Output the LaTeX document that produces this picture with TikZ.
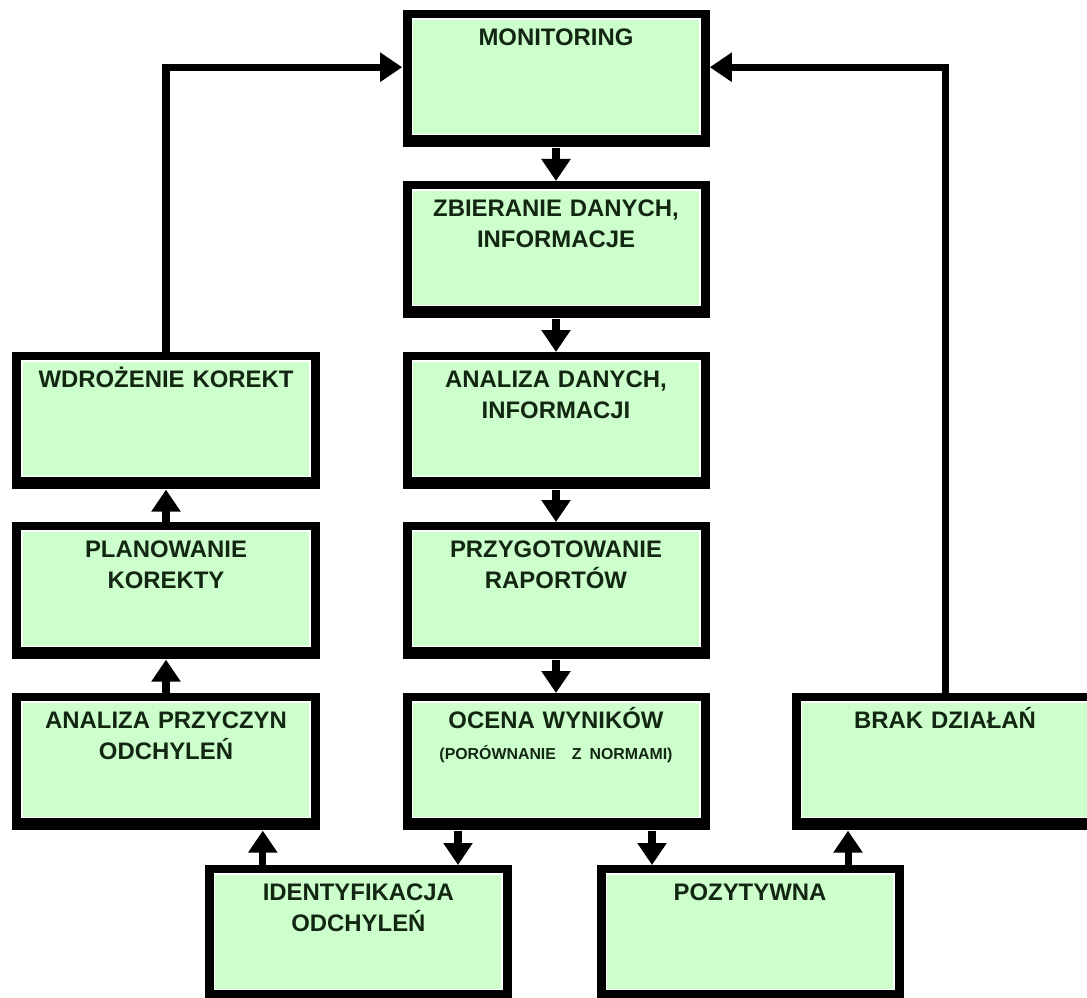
\documentclass[tikz,border=0pt]{standalone}
\usepackage{fontspec}
\setmainfont{Liberation Sans}
\usetikzlibrary{arrows.meta}
\definecolor{stagegreen}{RGB}{204,255,204}
\definecolor{stagetext}{RGB}{18,38,18}
\tikzset{
  stage/.style={fill=black, inner xsep=0pt, inner ysep=0pt, anchor=north,
    text width=7.675cm, align=center, text height=24.9pt, text depth=72.6pt,
    font=\fontsize{17pt}{22pt}\selectfont\bfseries, text=stagetext,
    path picture={
      \fill[white] ([shift={(6.4pt,-5.7pt)}]path picture bounding box.north west)
        rectangle ([shift={(-6.4pt,8.5pt)}]path picture bounding box.south east);
      \fill[stagegreen] ([shift={(7.5pt,-6.8pt)}]path picture bounding box.north west)
        rectangle ([shift={(-7.5pt,9.6pt)}]path picture bounding box.south east);
    }},
  flow/.style={line width=5pt, -{Triangle[width=0.7cm,length=0.55cm]}}
}
\begin{document}
\begin{tikzpicture}
  \useasboundingbox (0,0) rectangle (27.175,24.925);

  % middle column
  \node[stage] (mon) at (13.9,24.675) {MONITORING};
  \node[stage] (zbi) at (13.9,20.4) {ZBIERANIE DANYCH,\\ INFORMACJE};
  \node[stage] (ana) at (13.9,16.125) {ANALIZA DANYCH,\\ INFORMACJI};
  \node[stage] (prz) at (13.9,11.875) {PRZYGOTOWANIE\\ RAPORTÓW};
  \node[stage] (oce) at (13.9,7.6) {OCENA WYNIKÓW\\ \fontsize{11.3pt}{27.7pt}\selectfont (PORÓWNANIE\ \ Z NORMAMI)};

  % left column
  \node[stage] (wdr) at (4.15,16.125) {WDROŻENIE KOREKT};
  \node[stage] (pla) at (4.15,11.875) {PLANOWANIE\\ KOREKTY};
  \node[stage] (apr) at (4.15,7.6) {ANALIZA PRZYCZYN\\ ODCHYLEŃ};

  % right and bottom
  \node[stage] (bra) at (23.625,7.6) {BRAK DZIAŁAŃ};
  \node[stage] (ide) at (8.96,3.3) {IDENTYFIKACJA\\ ODCHYLEŃ};
  \node[stage] (poz) at (18.75,3.3) {POZYTYWNA};

  \draw[flow] (mon.south) -- (zbi.north);
  \draw[flow] (zbi.south) -- (ana.north);
  \draw[flow] (ana.south) -- (prz.north);
  \draw[flow] (prz.south) -- (oce.north);

  \coordinate (oceL) at ([xshift=-2.45cm]oce.south);
  \coordinate (oceR) at ([xshift=2.4cm]oce.south);
  \coordinate (ideU) at ([xshift=-2.39cm]ide.north);
  \coordinate (pozU) at ([xshift=2.45cm]poz.north);
  \draw[flow] (oceL) -- (oceL |- ide.north);
  \draw[flow] (oceR) -- (oceR |- poz.north);
  \draw[flow] (ideU) -- (ideU |- apr.south);
  \draw[flow] (pozU) -- (pozU |- bra.south);

  \draw[flow] (apr.north) -- (pla.south);
  \draw[flow] (pla.north) -- (wdr.south);
  \draw[flow] (wdr.north) |- ([yshift=0.29cm]mon.west);
  \draw[flow] (bra.north) |- ([yshift=0.29cm]mon.east);
\end{tikzpicture}
\end{document}
